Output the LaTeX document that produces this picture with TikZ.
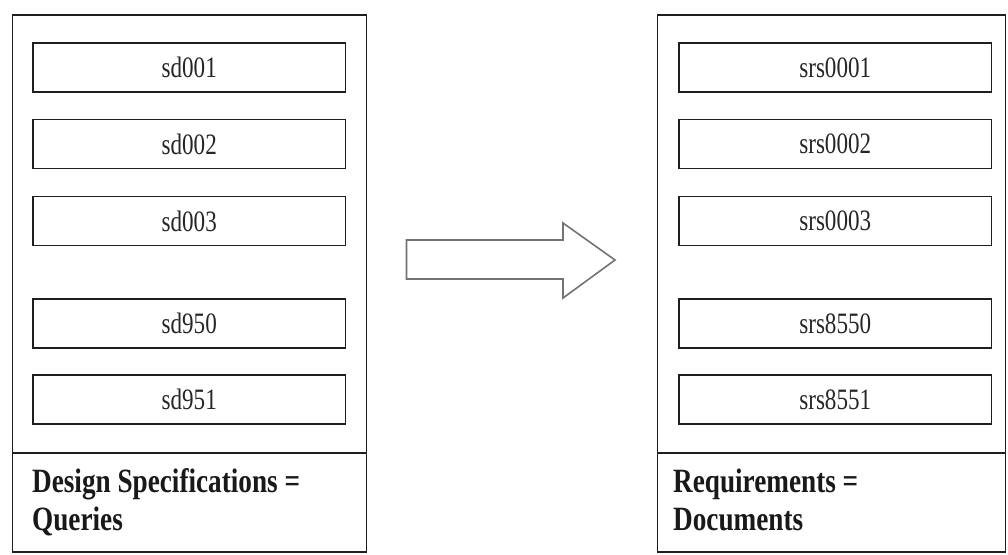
\documentclass[tikz,border=0pt]{standalone}
\usepackage{fontspec}
\setmainfont{Liberation Serif}
\newfontfamily\itemfont[FakeStretch=0.78]{Liberation Serif}
\newfontfamily\capfont[FakeStretch=0.8]{Liberation Serif Bold}
\begin{document}
\begin{tikzpicture}[x=1pt,y=-1pt,
  panel/.style={draw=black!88,line width=1.6pt,fill=white},
  itembox/.style={draw=black!88,line width=1.6pt,rectangle,inner sep=0pt,outer sep=0pt,
    minimum width=312.5pt,minimum height=49pt,
    font=\itemfont\fontsize{29.6}{30}\selectfont,text=black!85},
  caption/.style={anchor=base west,inner sep=0pt,font=\capfont\fontsize{34}{36}\selectfont,text=black!90},
  bigarrow/.style={draw=black!55,line width=1.6pt,fill=white,line join=miter}]
\useasboundingbox (0,0) rectangle (1008,554);
\fill[white] (0,0) rectangle (1008,554);

% left panel: design specifications
\node[panel,rectangle,inner sep=0pt,outer sep=0pt,minimum width=354pt,minimum height=537pt] (L) at (189.5,283.5) {};
\coordinate (Ld1) at (12.5,453);
\coordinate (Ld2) at (366.5,453);
\draw[draw=black!88,line width=1.6pt] (Ld1) -- (Ld2);
\node[itembox] (sd1) at (189.25,67.5) {sd001};
\node[itembox] (sd2) at (189.25,144) {sd002};
\node[itembox] (sd3) at (189.25,221) {sd003};
\node[itembox] (sd4) at (189.25,323.5) {sd950};
\node[itembox] (sd5) at (189.25,399.5) {sd951};
\node[caption] (lc1) at (32,492) {Design Specifications =};
\node[caption] (lc2) at (32,530) {Queries};

% right panel: requirements
\node[panel,rectangle,inner sep=0pt,outer sep=0pt,minimum width=348pt,minimum height=537pt] (R) at (831.5,283.5) {};
\coordinate (Rd1) at (657.5,453);
\coordinate (Rd2) at (1005.5,453);
\draw[draw=black!88,line width=1.6pt] (Rd1) -- (Rd2);
\node[itembox] (rs1) at (835.25,67.5) {srs0001};
\node[itembox] (rs2) at (835.25,144) {srs0002};
\node[itembox] (rs3) at (835.25,221) {srs0003};
\node[itembox] (rs4) at (835.25,323.5) {srs8550};
\node[itembox] (rs5) at (835.25,399.5) {srs8551};
\node[caption] (rc1) at (673,492) {Requirements =};
\node[caption] (rc2) at (673,530) {Documents};

% block arrow between the panels
\draw[bigarrow] (406.5,240) -- (563,240) -- (563,223) -- (615,260) -- (563,298)
  -- (563,279) -- (406.5,279) -- cycle;
\end{tikzpicture}
\end{document}
